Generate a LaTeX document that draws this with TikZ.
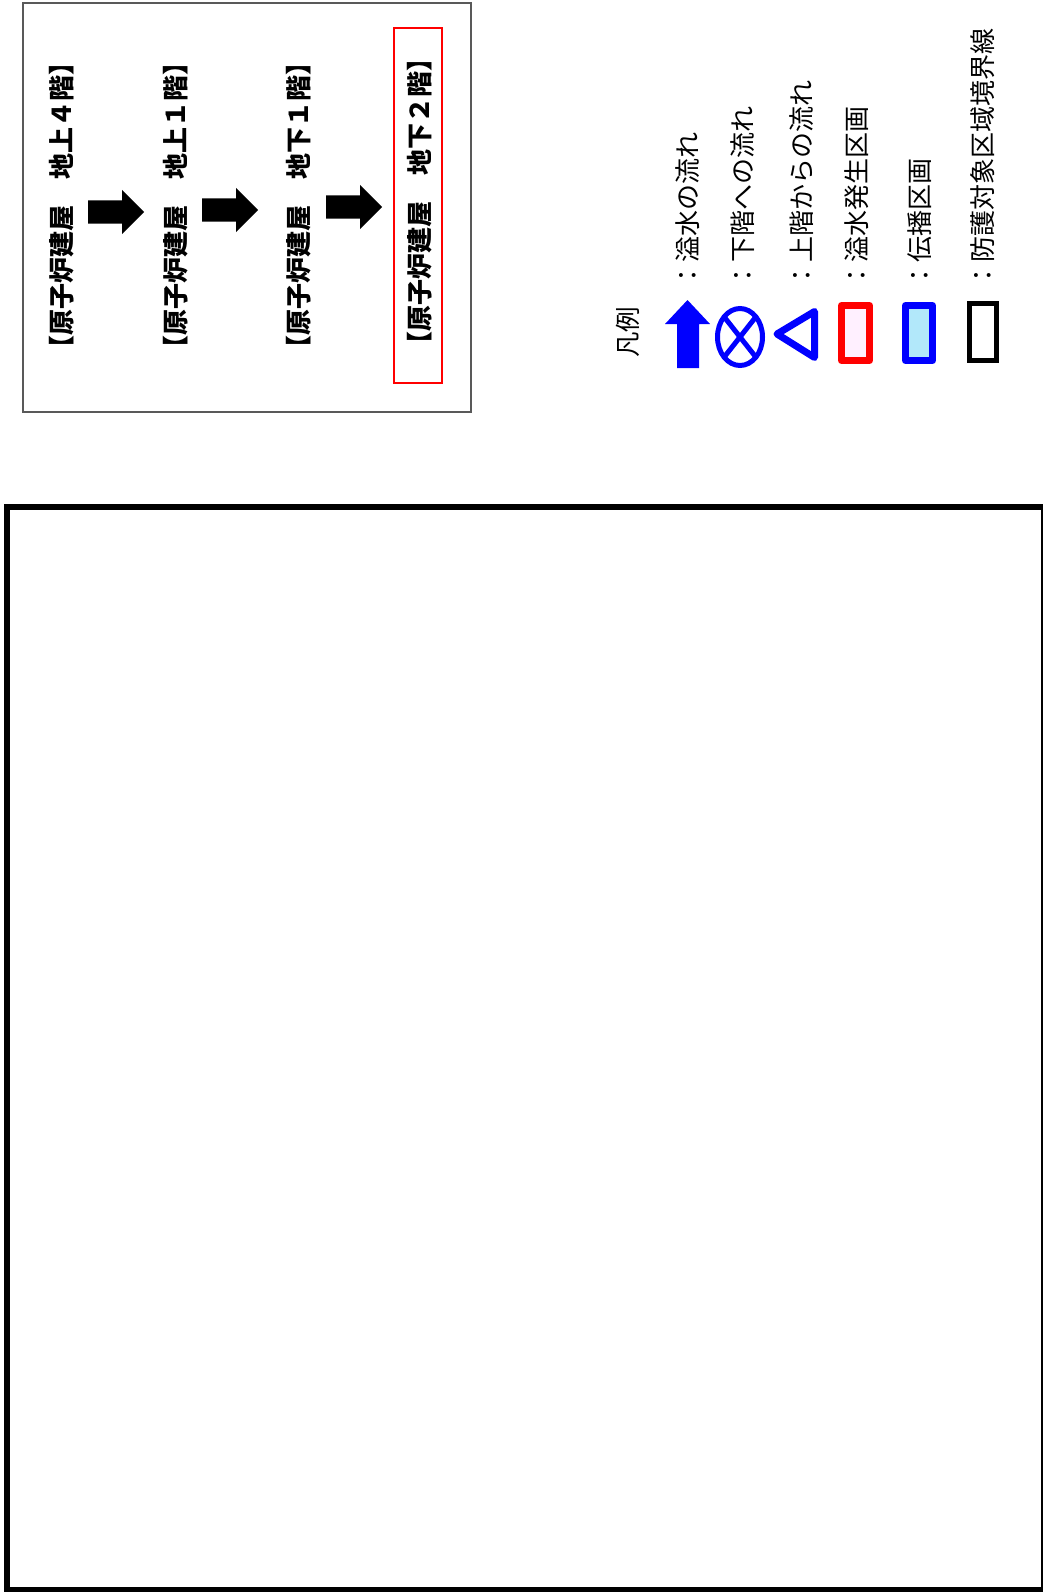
\documentclass[tikz,border=0pt]{standalone}
\usepackage{fontspec}
\newfontfamily\jp{Noto Sans CJK JP}
\usetikzlibrary{positioning,calc,shapes.arrows}

\begin{document}
\begin{tikzpicture}[
  x=1pt, y=-1pt,
  floor/.style={rotate=90, font=\jp\bfseries\fontsize{26}{30}\selectfont, inner sep=0pt},
  legtxt/.style={rotate=90, anchor=west, font=\jp\fontsize{26}{30}\selectfont, inner sep=0pt},
  go/.style={single arrow, fill=black, draw=none, inner sep=11.5pt,
             single arrow head extend=10.5pt, minimum height=56pt, anchor=tail},
  sym/.style={line width=7pt, line join=round}
]
\useasboundingbox (0,0) rectangle (1043,1592);

% Floor sequence frame
\draw[line width=2pt, black!65] (23,3) rectangle (471,412);
\draw[line width=2pt, red] (394,28) rectangle (442,383);

\node[floor] (F4)  at (62,205)  {【原子炉建屋　地上４階】};
\node[floor] (F1)  at (176,205) {【原子炉建屋　地上１階】};
\node[floor] (B1)  at (299,205) {【原子炉建屋　地下１階】};
\node[floor] (B2)  at (420,201) {【原子炉建屋　地下２階】};

\node[go] (g1) at (88,212)  {};
\node[go] (g2) at (202,210) {};
\node[go] (g3) at (326,207) {};

% Legend
\node[rotate=90, font=\jp\fontsize{25.5}{30}\selectfont, inner sep=0pt] (leg) at (628,332) {凡例};

\fill[blue] (677,368) -- (677,324) -- (665,324) -- (687.5,300) -- (710,324) -- (699,324) -- (699,368) -- cycle;
\draw[blue, line width=5pt] (740,337) ellipse [x radius=22.5, y radius=28.5];
\draw[blue, line width=5pt] (724.1,316.8) -- (755.9,357.2);
\draw[blue, line width=5pt] (755.9,316.8) -- (724.1,357.2);
\draw[sym, blue] (777,334) -- (814.5,311.5) -- (814.5,357.5) -- cycle;
\draw[sym, red, fill={rgb,255:red,255;green,240;blue,255}] (841.5,305.5) rectangle (869.5,360.5);
\draw[sym, blue, fill={rgb,255:red,178;green,232;blue,250}] (905.5,305.5) rectangle (932.5,360.5);
\draw[line width=5pt, black] (969.5,303.5) rectangle (996.5,360.5);

\node[legtxt] (l1) at (688,289) {：溢水の流れ};
\node[legtxt] (l2) at (743,289) {：下階への流れ};
\node[legtxt] (l3) at (802,289) {：上階からの流れ};
\node[legtxt] (l4) at (857,289) {：溢水発生区画};
\node[legtxt] (l5) at (920,289) {：伝播区画};
\node[legtxt] (l6) at (983,289) {：防護対象区域境界線};

% Plan frame
\draw[line width=6pt, black] (7,507) rectangle (1044,1590);
\end{tikzpicture}
\end{document}
